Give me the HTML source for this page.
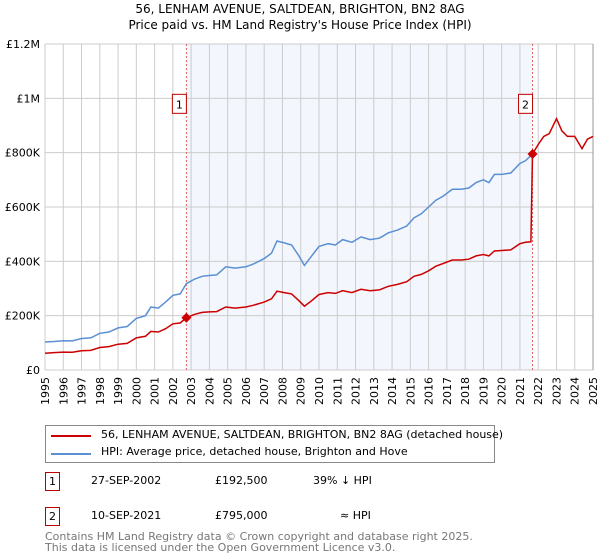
<!DOCTYPE html>
<html><head><meta charset="utf-8"><style>
body{margin:0;background:#fff;font-family:"DejaVu Sans","Liberation Sans",sans-serif;}
#wrap{position:relative;width:600px;height:560px;overflow:hidden}
.t{position:absolute;font-size:11px;color:#000;white-space:nowrap}
</style></head><body>
<div id="wrap">
<svg id="chart" width="600" height="420" style="position:absolute;left:0;top:0"></svg>
<div class="t" style="left:0;width:600px;text-align:center;top:2px;font-size:12px">56, LENHAM AVENUE, SALTDEAN, BRIGHTON, BN2 8AG</div>
<div class="t" style="left:0;width:600px;text-align:center;top:18px;font-size:12px">Price paid vs. HM Land Registry's House Price Index (HPI)</div>
<div style="position:absolute;left:45px;top:425px;width:448px;height:36px;border:1px solid #888">
 <div style="position:absolute;left:5px;top:9px;width:40px;height:2px;background:#cc0000"></div>
 <div class="t" style="left:55px;top:2px">56, LENHAM AVENUE, SALTDEAN, BRIGHTON, BN2 8AG (detached house)</div>
 <div style="position:absolute;left:5px;top:27px;width:40px;height:2px;background:#5b8fd4"></div>
 <div class="t" style="left:55px;top:19px">HPI: Average price, detached house, Brighton and Hove</div>
</div>
<div>
 <div class="t" style="left:45px;top:472px;width:13px;height:17px;border:1px solid #b00;text-align:center;line-height:17px">1</div>
 <div class="t" style="left:91px;top:474px">27-SEP-2002</div>
 <div class="t" style="left:215px;top:474px">£192,500</div>
 <div class="t" style="left:313px;top:474px">39% ↓ HPI</div>
</div>
<div>
 <div class="t" style="left:45px;top:507px;width:13px;height:17px;border:1px solid #b00;text-align:center;line-height:17px">2</div>
 <div class="t" style="left:91px;top:509px">10-SEP-2021</div>
 <div class="t" style="left:215px;top:509px">£795,000</div>
 <div class="t" style="left:340px;top:509px">≈ HPI</div>
</div>
<div class="t" style="left:45px;top:531px;color:#777;line-height:11px">Contains HM Land Registry data © Crown copyright and database right 2025.<br>This data is licensed under the Open Government Licence v3.0.</div>
</div>
<script>
const yTicks=[0,200000,400000,600000,800000,1000000,1200000];
const yTickLabels=["£0","£200K","£400K","£600K","£800K","£1M","£1.2M"];
const xYears=[1995,1996,1997,1998,1999,2000,2001,2002,2003,2004,2005,2006,2007,2008,2009,2010,2011,2012,2013,2014,2015,2016,2017,2018,2019,2020,2021,2022,2023,2024,2025];
const hpiDates=[1995,1995.5,1996,1996.5,1997,1997.5,1998,1998.5,1999,1999.5,2000,2000.5,2000.8,2001.2,2001.6,2002,2002.4,2002.74,2003.2,2003.6,2004,2004.4,2004.9,2005.4,2006,2006.4,2007,2007.4,2007.7,2008.1,2008.5,2008.9,2009.2,2009.6,2010,2010.5,2010.9,2011.3,2011.8,2012.3,2012.8,2013.3,2013.8,2014.3,2014.8,2015.2,2015.6,2016,2016.4,2016.8,2017.3,2017.8,2018.2,2018.6,2019,2019.3,2019.6,2020,2020.5,2021,2021.3,2021.69];
const hpiValues=[103,105,108,107,116,118,135,140,155,160,190,200,232,228,250,275,280,318,335,345,348,350,380,375,380,390,410,430,475,468,460,420,385,420,455,465,460,480,470,490,480,485,505,515,530,560,575,600,625,640,665,665,670,690,700,690,720,720,725,760,770,795];
const saleDates=[2002.74,2021.69];
const salePrices=[192500,795000];
const redDates=[1995,1995.5,1996,1996.5,1997,1997.5,1998,1998.5,1999,1999.5,2000,2000.5,2000.8,2001.2,2001.6,2002,2002.4,2002.74,2003.2,2003.6,2004,2004.4,2004.9,2005.4,2006,2006.4,2007,2007.4,2007.7,2008.1,2008.5,2008.9,2009.2,2009.6,2010,2010.5,2010.9,2011.3,2011.8,2012.3,2012.8,2013.3,2013.8,2014.3,2014.8,2015.2,2015.6,2016,2016.4,2016.8,2017.3,2017.8,2018.2,2018.6,2019,2019.3,2019.6,2020,2020.5,2021,2021.3,2021.6,2021.69,2022,2022.3,2022.6,2023,2023.3,2023.6,2024,2024.4,2024.7,2025];
const redValues=[62,64,66,65,71,72,83,86,95,98,118,124,142,140,152,170,173,192.5,205,212,214,215,232,228,232,238,250,262,290,285,280,255,235,255,278,285,282,292,285,297,292,295,308,315,325,345,352,365,382,392,405,405,408,420,425,420,438,440,442,465,470,472,795,830,860,870,925,880,860,860,815,850,860];
const X0=45,X1=593,Y0=370,Y1=44;
const xs=y=>X0+(y-1995)/(2025-1995)*(X1-X0);
const ys=v=>Y0-v/1200000*(Y0-Y1);
const NS="http://www.w3.org/2000/svg";
const svg=document.getElementById('chart');
function mk(tag,attrs){const e=document.createElementNS(NS,tag);for(const k in attrs)e.setAttribute(k,attrs[k]);svg.appendChild(e);return e;}
let e=mk('rect',{x:X0,y:Y1,width:X1-X0,height:Y0-Y1,fill:'#fff'});


e=mk('rect',{x:xs(saleDates[0]),y:Y1,width:xs(saleDates[1])-xs(saleDates[0]),height:Y0-Y1,fill:'#f3f6fd'});


xYears.forEach(yr=>{
 e=mk('line',{x1:xs(yr),x2:xs(yr),y1:Y1,y2:Y0,stroke:'#cccccc','stroke-width':1});
 
 
 e=mk('text',{x:0,y:0,'font-size':11,transform:`translate(${xs(yr)+4},${Y0+35}) rotate(-90)`,'font-family':'DejaVu Sans, Liberation Sans, sans-serif'});
 e.textContent=yr;
 
 
});
yTicks.forEach((v,i)=>{
 e=mk('line',{x1:X0,x2:X1,y1:ys(v),y2:ys(v),stroke:'#cccccc','stroke-width':1});
 
 
 e=mk('text',{x:X0-5,y:ys(v)+4,'font-size':11,'text-anchor':'end','font-family':'DejaVu Sans, Liberation Sans, sans-serif'});
 e.textContent=yTickLabels[i];
 
 
});
e=mk('line',{x1:X1,x2:X1,y1:Y1,y2:Y0,stroke:'#999','stroke-width':1});


saleDates.forEach((d,i)=>{
 e=mk('line',{x1:xs(d),x2:xs(d),y1:Y1,y2:Y0,stroke:'#e06060','stroke-width':1,'stroke-dasharray':'2,2'});
 
 
});
const pts=(ds,vs)=>ds.map((d,i)=>xs(d).toFixed(1)+','+ys(vs[i]*1000).toFixed(1)).join(' ');
e=mk('polyline',{points:pts(hpiDates,hpiValues),fill:'none',stroke:'#5b8fd4','stroke-width':1.5});


e=mk('polyline',{points:pts(redDates,redValues),fill:'none',stroke:'#cc0000','stroke-width':1.5});


saleDates.forEach((d,i)=>{
 const cx=xs(d),cy=ys(salePrices[i]);
 e=mk('polygon',{points:`${cx},${cy-5} ${cx+5},${cy} ${cx},${cy+5} ${cx-5},${cy}`,fill:'#cc0000'});
 
 
 e=mk('rect',{x:cx-14,y:ys(1000000)-4,width:14,height:19,fill:'#fff',stroke:'#b00','stroke-width':1});
 
 
 e=mk('text',{x:cx-7,y:ys(1000000)+10,'font-size':11,'text-anchor':'middle','font-family':'DejaVu Sans, Liberation Sans, sans-serif'});
 e.textContent=String(i+1);
 
 
});
</script>
</body></html>
